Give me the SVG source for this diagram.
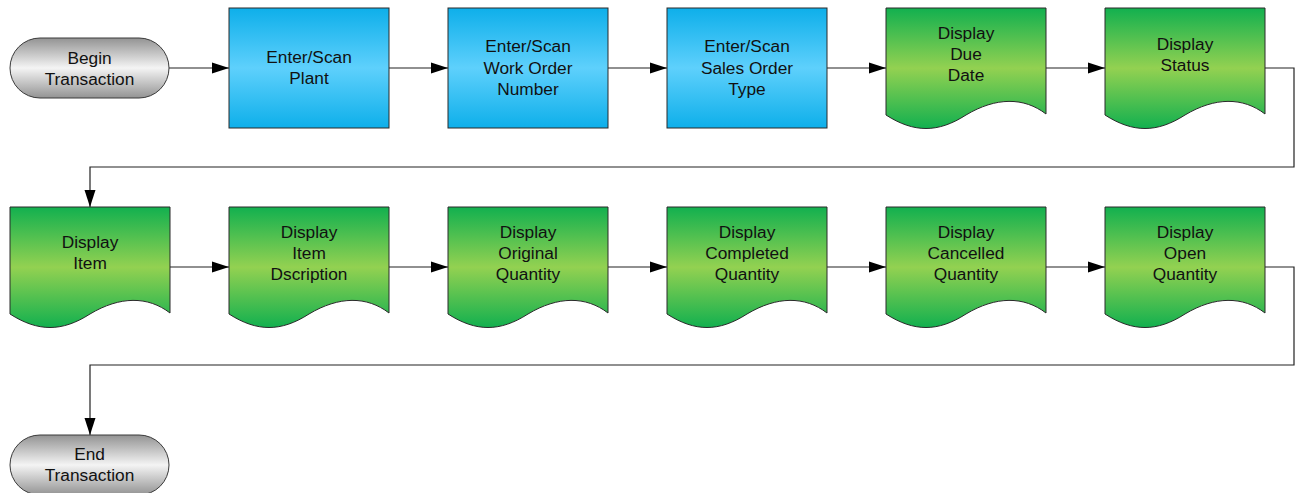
<svg xmlns="http://www.w3.org/2000/svg" width="1297" height="493" viewBox="0 0 1297 493">
<style>
.t{font-family:"Liberation Sans",Arial,sans-serif;font-size:17.3px;fill:#111;text-anchor:middle}
.term{fill:url(#gGray);stroke:#3a3a3a;stroke-width:1}
.proc{fill:url(#gBlue);stroke:#2a2a2a;stroke-width:1}
.doc{fill:url(#gGreen);stroke:#2a2a2a;stroke-width:1}
.c{fill:none;stroke:#222;stroke-width:1.2;marker-end:url(#arr)}
</style>
<defs>
<linearGradient id="gGray" x1="0" y1="0" x2="0" y2="1">
<stop offset="0" stop-color="#939393"/><stop offset="0.5" stop-color="#f4f4f4"/><stop offset="1" stop-color="#939393"/>
</linearGradient>
<linearGradient id="gBlue" x1="0" y1="0" x2="0" y2="1">
<stop offset="0" stop-color="#0eafea"/><stop offset="0.5" stop-color="#5ed0fc"/><stop offset="1" stop-color="#0eafea"/>
</linearGradient>
<linearGradient id="gGreen" x1="0" y1="0" x2="0" y2="1">
<stop offset="0" stop-color="#12b04f"/><stop offset="0.5" stop-color="#93d151"/><stop offset="1" stop-color="#12b04f"/>
</linearGradient>
<marker id="arr" markerUnits="userSpaceOnUse" markerWidth="17" markerHeight="12" refX="17" refY="6" orient="auto">
<path d="M0,0.5 L17,6 L0,11.5 z" fill="#000"/>
</marker>
</defs>

<g id="connectors">
<path class="c" d="M169,68 H229"/>
<path class="c" d="M389,68 H448"/>
<path class="c" d="M608,68 H667"/>
<path class="c" d="M827,68 H886"/>
<path class="c" d="M1046,68 H1105"/>
<path class="c" d="M1265,68 H1294 V167 H90 V207"/>
<path class="c" d="M170,267 H229"/>
<path class="c" d="M389,267 H448"/>
<path class="c" d="M608,267 H667"/>
<path class="c" d="M827,267 H886"/>
<path class="c" d="M1046,267 H1105"/>
<path class="c" d="M1265,267 H1294 V365 H90 V435"/>
</g>

<g id="begin">
<rect class="term" x="10" y="38" width="159" height="60" rx="30" ry="30"/>
<text class="t" x="89.5" y="64">Begin</text>
<text class="t" x="89.5" y="84.5">Transaction</text>
</g>

<g id="plant">
<rect class="proc" x="229" y="8" width="160" height="120"/>
<text class="t" x="309" y="63">Enter/Scan</text>
<text class="t" x="309" y="84">Plant</text>
</g>

<g id="workorder">
<rect class="proc" x="448" y="8" width="160" height="120"/>
<text class="t" x="528" y="52">Enter/Scan</text>
<text class="t" x="528" y="73.5">Work Order</text>
<text class="t" x="528" y="95">Number</text>
</g>

<g id="salesorder">
<rect class="proc" x="667" y="8" width="160" height="120"/>
<text class="t" x="747" y="52">Enter/Scan</text>
<text class="t" x="747" y="73.5">Sales Order</text>
<text class="t" x="747" y="95">Type</text>
</g>

<g id="duedate">
<path class="doc" d="M886,8 H1046 V114 C1024,97 996,97 966,115 C938,133 914,133 886,115 Z"/>
<text class="t" x="966" y="39">Display</text>
<text class="t" x="966" y="60">Due</text>
<text class="t" x="966" y="81">Date</text>
</g>

<g id="status">
<path class="doc" d="M1105,8 H1265 V114 C1243,97 1215,97 1185,115 C1157,133 1133,133 1105,115 Z"/>
<text class="t" x="1185" y="50">Display</text>
<text class="t" x="1185" y="71">Status</text>
</g>

<g id="item">
<path class="doc" d="M10,207 H170 V313 C148,296 120,296 90,314 C62,332 38,332 10,314 Z"/>
<text class="t" x="90" y="248">Display</text>
<text class="t" x="90" y="269">Item</text>
</g>

<g id="itemdesc">
<path class="doc" d="M229,207 H389 V313 C367,296 339,296 309,314 C281,332 257,332 229,314 Z"/>
<text class="t" x="309" y="238">Display</text>
<text class="t" x="309" y="259">Item</text>
<text class="t" x="309" y="280">Dscription</text>
</g>

<g id="origqty">
<path class="doc" d="M448,207 H608 V313 C586,296 558,296 528,314 C500,332 476,332 448,314 Z"/>
<text class="t" x="528" y="238">Display</text>
<text class="t" x="528" y="259">Original</text>
<text class="t" x="528" y="280">Quantity</text>
</g>

<g id="compqty">
<path class="doc" d="M667,207 H827 V313 C805,296 777,296 747,314 C719,332 695,332 667,314 Z"/>
<text class="t" x="747" y="238">Display</text>
<text class="t" x="747" y="259">Completed</text>
<text class="t" x="747" y="280">Quantity</text>
</g>

<g id="cancqty">
<path class="doc" d="M886,207 H1046 V313 C1024,296 996,296 966,314 C938,332 914,332 886,314 Z"/>
<text class="t" x="966" y="238">Display</text>
<text class="t" x="966" y="259">Cancelled</text>
<text class="t" x="966" y="280">Quantity</text>
</g>

<g id="openqty">
<path class="doc" d="M1105,207 H1265 V313 C1243,296 1215,296 1185,314 C1157,332 1133,332 1105,314 Z"/>
<text class="t" x="1185" y="238">Display</text>
<text class="t" x="1185" y="259">Open</text>
<text class="t" x="1185" y="280">Quantity</text>
</g>

<g id="end">
<rect class="term" x="10" y="435" width="159" height="60" rx="30" ry="30"/>
<text class="t" x="89.5" y="460">End</text>
<text class="t" x="89.5" y="481">Transaction</text>
</g>
</svg>
